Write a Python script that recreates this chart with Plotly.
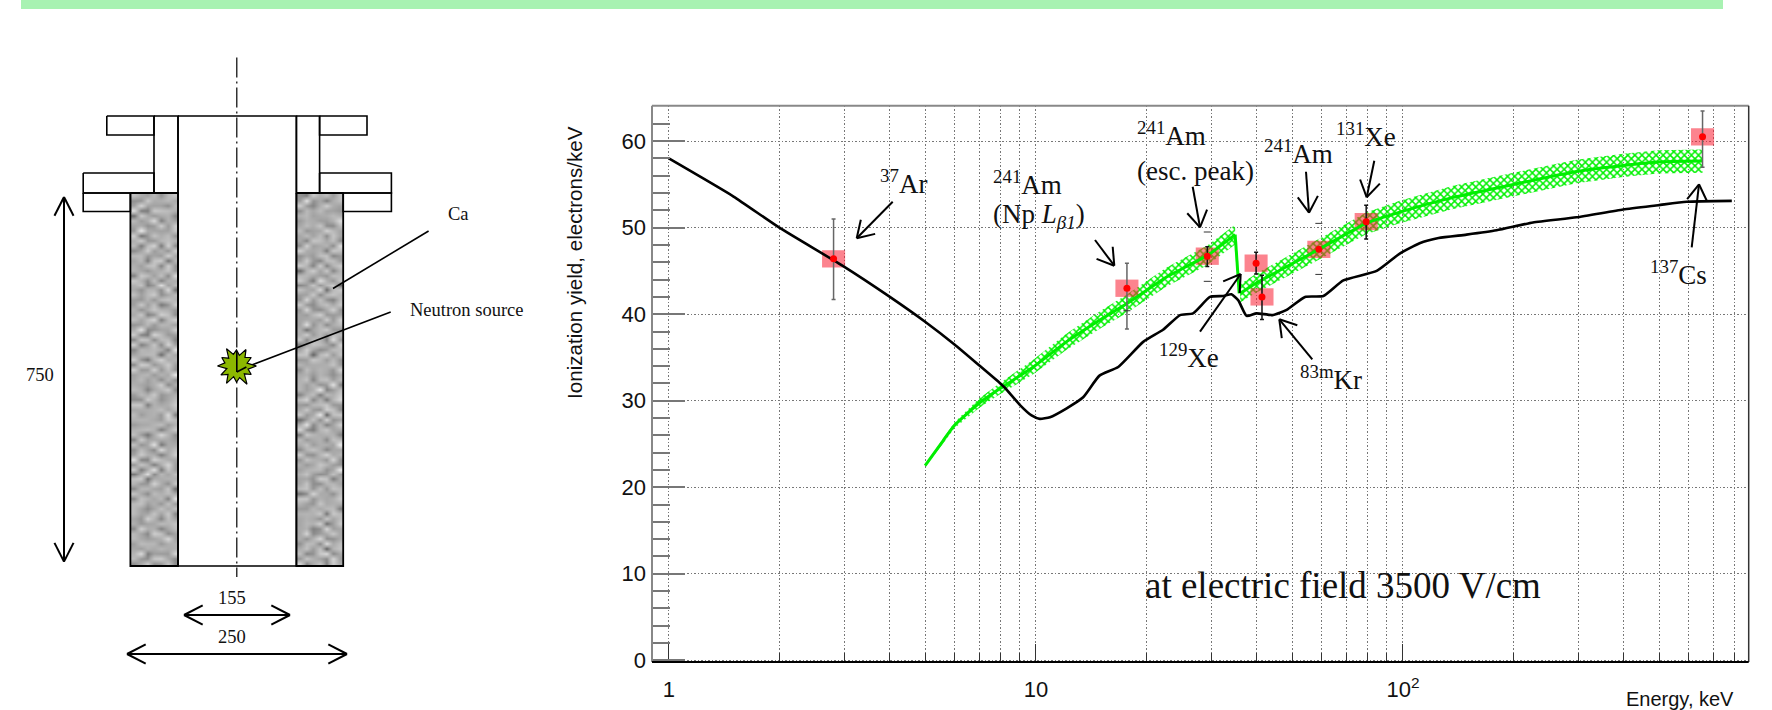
import math
import plotly.graph_objects as go

# ---------- chart data ----------
black_energy = [1, 1.5, 2, 3, 4, 5, 6, 7, 8, 8.23, 9.05, 9.73, 10.25, 10.92, 12.1, 13.45, 14.9, 16.76, 19.6,
                22.2, 24.7, 26.8, 29.8, 32.4, 34.1, 35.6, 37.5, 39.9, 44.3, 48.2, 54.1, 60.7, 68.8, 84.8, 98, 111,
                125, 149, 180, 226, 297, 398, 496, 593, 787]
black_yield = [58.0, 53.6, 50.0, 45.5, 42.0, 39.1, 36.5, 34.1, 32.0, 31.5, 29.5, 28.3, 27.9, 28.1, 29.1, 30.4,
               32.9, 33.9, 36.8, 38.2, 39.9, 40.1, 42.0, 42.1, 42.3, 41.6, 39.8, 40.1, 39.9, 40.5, 42.0, 42.1, 43.9,
               45.0, 47.0, 48.2, 48.8, 49.2, 49.7, 50.6, 51.2, 52.1, 52.6, 53.0, 53.1]

green_low_energy = [4.99, 5.59, 6.01, 7.0, 7.98, 9.83, 12.1, 14.9, 17.66, 22.7, 29.3, 34.9]
green_low_yield = [22.5, 25.4, 27.2, 29.7, 31.4, 33.9, 36.8, 39.3, 41.2, 44.3, 46.8, 49.2]
green_low_half = [0.15, 0.25, 0.35, 0.55, 0.65, 0.85, 0.95, 1.0, 1.05, 1.1, 1.15, 1.15]

green_drop_energy = [34.9, 35.8]
green_drop_yield = [49.2, 42.4]

green_high_energy = [36, 39.9, 50.2, 59, 79.4, 98, 137, 200, 297, 398, 496, 655]
green_high_yield = [42.4, 43.6, 45.9, 47.5, 50.5, 51.8, 53.5, 55.0, 56.5, 57.2, 57.6, 57.7]
green_high_half = [1.05, 1.1, 1.15, 1.2, 1.25, 1.3, 1.35, 1.35, 1.35, 1.35, 1.35, 1.35]

point_energy = [2.81, 17.7, 29.3, 39.8, 41.3, 59, 79.4, 655]
point_yield = [46.4, 43.0, 46.7, 45.9, 42.0, 47.5, 50.7, 60.5]
box_half_yield = [1.0] * 8
box_factor = 1.075

wide_err_energy = [2.81, 17.7, 655]
wide_err_yield = [46.4, 43.0, 60.5]
wide_err_plus = [4.6, 2.9, 3.0]
wide_err_minus = [4.7, 4.7, 3.5]
narrow_err_energy = [29.3, 39.8, 41.3, 79.4]
narrow_err_yield = [46.7, 45.9, 42.0, 50.7]
narrow_err_plus = [1.1, 1.25, 2.5, 1.9]
narrow_err_minus = [1.2, 1.25, 2.6, 2.0]
cap_energy = [17.7, 29.3, 29.3, 59, 59]
cap_yield = [40.4, 49.5, 43.8, 50.5, 44.6]

y_major = [0, 10, 20, 30, 40, 50, 60]
x_major = [1, 10, 100]
x_major_text = ["1", "10", "10<sup>2</sup>"]
x_minor = [2, 3, 4, 5, 6, 7, 8, 9, 20, 30, 40, 50, 60, 70, 80, 90, 200, 300, 400, 500, 600, 700, 800, 900]

# ---------- labels on the chart (left edge, centre height, text, on the page scale) ----------
chart_labels = [
    (878, 182, "<sup>37</sup>Ar"),
    (991, 183, "<sup>241</sup>Am"),
    (991, 216, "(Np <i>L<sub>β1</sub></i>)"),
    (1135, 134, "<sup>241</sup>Am"),
    (1135, 171, "(esc. peak)"),
    (1262, 152, "<sup>241</sup>Am"),
    (1334, 135, "<sup>131</sup>Xe"),
    (1157, 356, "<sup>129</sup>Xe"),
    (1298, 378, "<sup>83m</sup>Kr"),
    (1648, 273, "<sup>137</sup>Cs"),
]
chart_pointers = [
    ((892.7, 201.7), (856.7, 238.3)),
    ((1095, 240), (1114.3, 265.7)),
    ((1192.7, 186.7), (1200, 227.3)),
    ((1306, 171.7), (1309, 212.7)),
    ((1374.3, 160.7), (1366.7, 197.3)),
    ((1200, 331.7), (1240.7, 274)),
    ((1312.3, 359.3), (1279.3, 319.3)),
    ((1691.7, 247.3), (1699, 184.3)),
]

# ---------- schematic geometry ----------
band = (21, 1723, 0, 9)
tube = (178, 296.4, 116, 566)
wall_left = (130.4, 178, 193, 566)
wall_right = (296.4, 343.2, 193, 566)
outline_boxes = [
    (154, 178, 116, 193), (296.4, 319.6, 116, 193),
    (106.8, 154, 116, 135), (319.6, 367, 116, 135),
    (83.2, 154, 173, 193), (319.6, 391.4, 173, 193),
    (83.2, 130.4, 193, 211.5), (343.2, 391.4, 193, 211.5),
]
axis_line = ((236.8, 57.5), (236.8, 577))
dimensions = [((64, 197), (64, 561.6)), ((184, 615), (290, 615)), ((127, 654), (347, 654))]
leaders = [((428.6, 231), (333, 288.5)), ((390.7, 312), (246.4, 367))]
schem_labels = [(39.6, 374.5, "750"), (232, 598, "155"), (232, 637, "250"),
                (458, 214, "Ca"), (467, 310, "Neutron source")]
star_centre = (236.5, 366)
star_radius = [20, 12, 17, 11, 21, 12, 16, 11, 20, 12, 18, 10, 19, 12, 17, 11, 20, 12, 16, 11, 19, 12, 17, 11]

# mottled grey of the calcium walls: small hand-set tiles, mixed at unequal periods
tile_a = [[1, -1, 0, 2, -2, 1, 0], [-2, 0, 1, -1, 1, -1, 2], [0, 2, -1, 0, -2, 0, 1], [1, -1, -2, 1, 2, -1, 0],
          [-1, 1, 0, -1, 0, 2, -2]]
tile_b = [[0, 2, -1, -2, 1], [1, -2, 0, 2, -1], [-1, 0, 2, -1, 0], [2, -1, -2, 0, 1], [-2, 1, 0, 1, -1],
          [0, -1, 1, 2, -2], [1, 0, -2, -1, 2], [-1, 2, 1, 0, 0], [2, -2, 0, 1, -1]]
tile_c = [[1, -1, 0], [-1, 0, 2], [0, 2, -2], [2, -2, 1], [-2, 1, 0], [0, 1, -1], [1, 0, -2], [-1, 2, 0], [0, -2, 1],
          [2, 0, -1], [-1, -1, 2]]
WALL_STEP_X, WALL_STEP_Y = 7, 5

PX_L, PX_R, PX_T, PX_B = 652, 1748.7, 105.7, 662


def rect(b):
    x0, x1, y0, y1 = b
    return [x0, x1, x1, x0, x0], [y0, y0, y1, y1, y0]


def head(tail, tip, length=19, half_angle=32):
    a = math.atan2(tail[1] - tip[1], tail[0] - tip[0])
    xs, ys = [], []
    for s in (1, -1):
        t = a + s * math.radians(half_angle)
        xs += [tip[0] + length * math.cos(t), tip[0], None]
        ys += [tip[1] + length * math.sin(t), tip[1], None]
    return xs, ys


fig = go.Figure()

# green bands
for ex, ey, eh in ((green_low_energy, green_low_yield, green_low_half),
                   (green_high_energy, green_high_yield, green_high_half)):
    fig.add_trace(go.Scatter(
        x=ex + ex[::-1],
        y=[a + b for a, b in zip(ey, eh)] + [a - b for a, b in zip(ey[::-1], eh[::-1])],
        mode="lines", line=dict(width=0), fill="toself", fillcolor="rgba(0,0,0,0)",
        fillpattern=dict(shape="x", size=5, solidity=0.5, fgcolor="#00f000", fgopacity=1, bgcolor="rgba(0,0,0,0)",
                         fillmode="overlay"),
        hoverinfo="skip", showlegend=False))
# red boxes
for e, y, h in zip(point_energy, point_yield, box_half_yield):
    fig.add_trace(go.Scatter(
        x=[e / box_factor, e * box_factor, e * box_factor, e / box_factor, e / box_factor],
        y=[y - h, y - h, y + h, y + h, y - h],
        mode="lines", line=dict(width=0), fill="toself", fillcolor="rgba(250,30,50,0.55)",
        hoverinfo="skip", showlegend=False))
# green centre lines
for ex, ey in ((green_low_energy, green_low_yield), (green_drop_energy, green_drop_yield),
               (green_high_energy, green_high_yield)):
    fig.add_trace(go.Scatter(x=ex, y=ey, mode="lines",
                             line=dict(color="#00ee00", width=3, shape="spline", smoothing=0.5),
                             hoverinfo="skip", showlegend=False))
# black curve
fig.add_trace(go.Scatter(x=black_energy, y=black_yield, mode="lines",
                         line=dict(color="black", width=2.6, shape="spline", smoothing=0.5),
                         hoverinfo="skip", showlegend=False))
# error bars and points
fig.add_trace(go.Scatter(
    x=wide_err_energy, y=wide_err_yield, mode="markers", marker=dict(color="rgba(0,0,0,0)", size=1),
    error_y=dict(type="data", symmetric=False, array=wide_err_plus, arrayminus=wide_err_minus,
                 color="#666666", thickness=1.5, width=2),
    hoverinfo="skip", showlegend=False))
fig.add_trace(go.Scatter(
    x=narrow_err_energy, y=narrow_err_yield, mode="markers", marker=dict(color="rgba(0,0,0,0)", size=1),
    error_y=dict(type="data", symmetric=False, array=narrow_err_plus, arrayminus=narrow_err_minus,
                 color="#111111", thickness=1.5, width=2),
    hoverinfo="skip", showlegend=False))
fig.add_trace(go.Scatter(
    x=cap_energy, y=cap_yield, mode="markers",
    marker=dict(symbol="line-ew", size=5, line=dict(color="#333333", width=1)),
    hoverinfo="skip", showlegend=False))
fig.add_trace(go.Scatter(x=point_energy, y=point_yield, mode="markers", marker=dict(color="#ff0000", size=7),
                         hoverinfo="skip", showlegend=False))

# ---------- page-scale overlay: schematic and pointers ----------
XY = dict(xaxis="x2", yaxis="y2", hoverinfo="skip", showlegend=False)
bx, by = rect(band)
fig.add_trace(go.Scatter(x=bx, y=by, mode="lines", line=dict(width=0), fill="toself", fillcolor="#a8f2b2", **XY))

for k, w in enumerate((wall_left, wall_right)):
    x0, x1, y0, y1 = w
    nx = int((x1 - x0) / WALL_STEP_X) + 1
    ny = int((y1 - y0) / WALL_STEP_Y) + 1
    z = [[168 + 15 * tile_a[(r + k) % 5][c % 7] + 12 * tile_b[r % 9][(c + 2 * k) % 5] + 9 * tile_c[(r + 3 * k) % 11][c % 3]
          for c in range(nx)] for r in range(ny)]
    fig.add_trace(go.Heatmap(z=z, x0=x0 + (x1 - x0) / nx / 2, dx=(x1 - x0) / nx, y0=y0 + (y1 - y0) / ny / 2,
                             dy=(y1 - y0) / ny, zmin=90, zmax=230, zsmooth="best", showscale=False,
                             colorscale=[[0, "#5a5a5a"], [0.5, "#a6a6a6"], [1, "#e2e2e2"]],
                             xaxis="x2", yaxis="y2", hoverinfo="skip"))
    wx, wy = rect(w)
    fig.add_trace(go.Scatter(x=wx, y=wy, mode="lines", line=dict(color="black", width=1.8), **XY))

for b in outline_boxes + [tube]:
    ox, oy = rect(b)
    fig.add_trace(go.Scatter(x=ox, y=oy, mode="lines", line=dict(color="black", width=1.6), **XY))

fig.add_trace(go.Scatter(x=[axis_line[0][0], axis_line[1][0]], y=[axis_line[0][1], axis_line[1][1]], mode="lines",
                         line=dict(color="black", width=1.2, dash="20px,4px,2px,4px"), **XY))

lx, ly = [], []
for a, b in leaders:
    lx += [a[0], b[0], None]
    ly += [a[1], b[1], None]
fig.add_trace(go.Scatter(x=lx, y=ly, mode="lines", line=dict(color="black", width=1.6), **XY))

n = len(star_radius)
sx = [star_centre[0] + r * math.cos(2 * math.pi * i / n) for i, r in enumerate(star_radius)]
sy = [star_centre[1] + r * math.sin(2 * math.pi * i / n) for i, r in enumerate(star_radius)]
fig.add_trace(go.Scatter(x=sx + sx[:1], y=sy + sy[:1], mode="lines", fill="toself", fillcolor="#8cb800",
                         line=dict(color="black", width=1.2), **XY))
fig.add_trace(go.Scatter(x=[236.8, 236.8, None, 236.8, 246.4], y=[352, 372, None, 372, 367], mode="lines",
                         line=dict(color="black", width=1.6), **XY))

ax_, ay_ = [], []
for tail, tip in dimensions:
    ax_ += [tail[0], tip[0], None]
    ay_ += [tail[1], tip[1], None]
    for p, q in ((tail, tip), (tip, tail)):
        hx, hy = head(p, q, length=21, half_angle=27)
        ax_ += hx
        ay_ += hy
for tail, tip in chart_pointers:
    ax_ += [tail[0], tip[0], None]
    ay_ += [tail[1], tip[1], None]
    hx, hy = head(tail, tip)
    ax_ += hx
    ay_ += hy
fig.add_trace(go.Scatter(x=ax_, y=ay_, mode="lines", line=dict(color="black", width=2), **XY))

annotations = []
for x, y, t in schem_labels:
    annotations.append(dict(x=x, y=y, text=t, xref="x2", yref="y2", showarrow=False, xanchor="center",
                            yanchor="middle", font=dict(family="Liberation Serif", size=18.5, color="#111111")))
for x, y, t in chart_labels:
    annotations.append(dict(x=x, y=y, text=t, xref="x2", yref="y2", showarrow=False, xanchor="left",
                            yanchor="middle", font=dict(family="Liberation Serif", size=27, color="#111111")))
annotations.append(dict(x=1143, y=585, text="at electric field 3500 V/cm", xref="x2", yref="y2", showarrow=False,
                        xanchor="left", yanchor="middle",
                        font=dict(family="Liberation Serif", size=37, color="#111111")))
annotations.append(dict(x=574, y=263, text="Ionization yield, electrons/keV", xref="x2", yref="y2", showarrow=False,
                        textangle=-90, xanchor="center", yanchor="middle",
                        font=dict(family="Liberation Sans", size=20.6, color="#111111")))
annotations.append(dict(x=1736, y=699, text="Energy, keV", xref="x2", yref="y2", showarrow=False,
                        xanchor="right", yanchor="middle",
                        font=dict(family="Liberation Sans", size=20, color="#111111")))

GRID = dict(griddash="1.5px,2px", gridcolor="#777777", gridwidth=1)
fig.update_layout(
    width=1772, height=710, margin=dict(l=0, r=0, t=0, b=0),
    paper_bgcolor="white", plot_bgcolor="rgba(0,0,0,0)",
    font=dict(family="Liberation Sans", color="#111111"),
    annotations=annotations,
    xaxis=dict(type="log", domain=[PX_L / 1772, PX_R / 1772], range=[-0.046, 2.942], anchor="y", automargin=False,
               tickmode="array", tickvals=x_major, ticktext=x_major_text, ticks="inside", ticklen=18, tickwidth=1,
               tickcolor="#333333", tickfont=dict(size=22), ticklabelstandoff=12, showline=False, zeroline=False,
               showgrid=True, **GRID,
               minor=dict(tickmode="array", tickvals=x_minor, ticks="inside", ticklen=9, tickwidth=1,
                          tickcolor="#333333", showgrid=True, griddash="1.5px,2px", gridcolor="#777777", gridwidth=1)),
    yaxis=dict(domain=[1 - PX_B / 710, 1 - PX_T / 710], range=[-0.2, 64.1], anchor="x", automargin=False,
               tickmode="array", tickvals=y_major, ticks="inside", ticklen=33, tickwidth=1.5, tickcolor="#777777",
               tickfont=dict(size=22), ticklabelstandoff=5, showline=False, zeroline=False, showgrid=True, **GRID,
               minor=dict(tickmode="linear", tick0=0, dtick=2, ticks="inside", ticklen=18, tickwidth=1.5,
                          tickcolor="#777777", showgrid=False)),
    xaxis2=dict(domain=[0, 1], range=[0, 1772], anchor="y2", visible=False, fixedrange=True, automargin=False),
    yaxis2=dict(domain=[0, 1], range=[710, 0], anchor="x2", visible=False, fixedrange=True, automargin=False),
    shapes=[
        dict(type="line", xref="x domain", yref="y domain", x0=0, x1=1, y0=1, y1=1, line=dict(color="#888888", width=2)),
        dict(type="line", xref="x domain", yref="y domain", x0=0, x1=0, y0=0, y1=1, line=dict(color="#888888", width=2)),
        dict(type="line", xref="x domain", yref="y domain", x0=1, x1=1, y0=0, y1=1, line=dict(color="#333333", width=1.5)),
        dict(type="line", xref="x domain", yref="y domain", x0=0, x1=1, y0=0, y1=0, line=dict(color="black", width=2)),
    ],
)

fig.write_html("out.html", config={"displayModeBar": False},
               post_script="document.body.style.margin='0';document.body.style.overflow='hidden';")
